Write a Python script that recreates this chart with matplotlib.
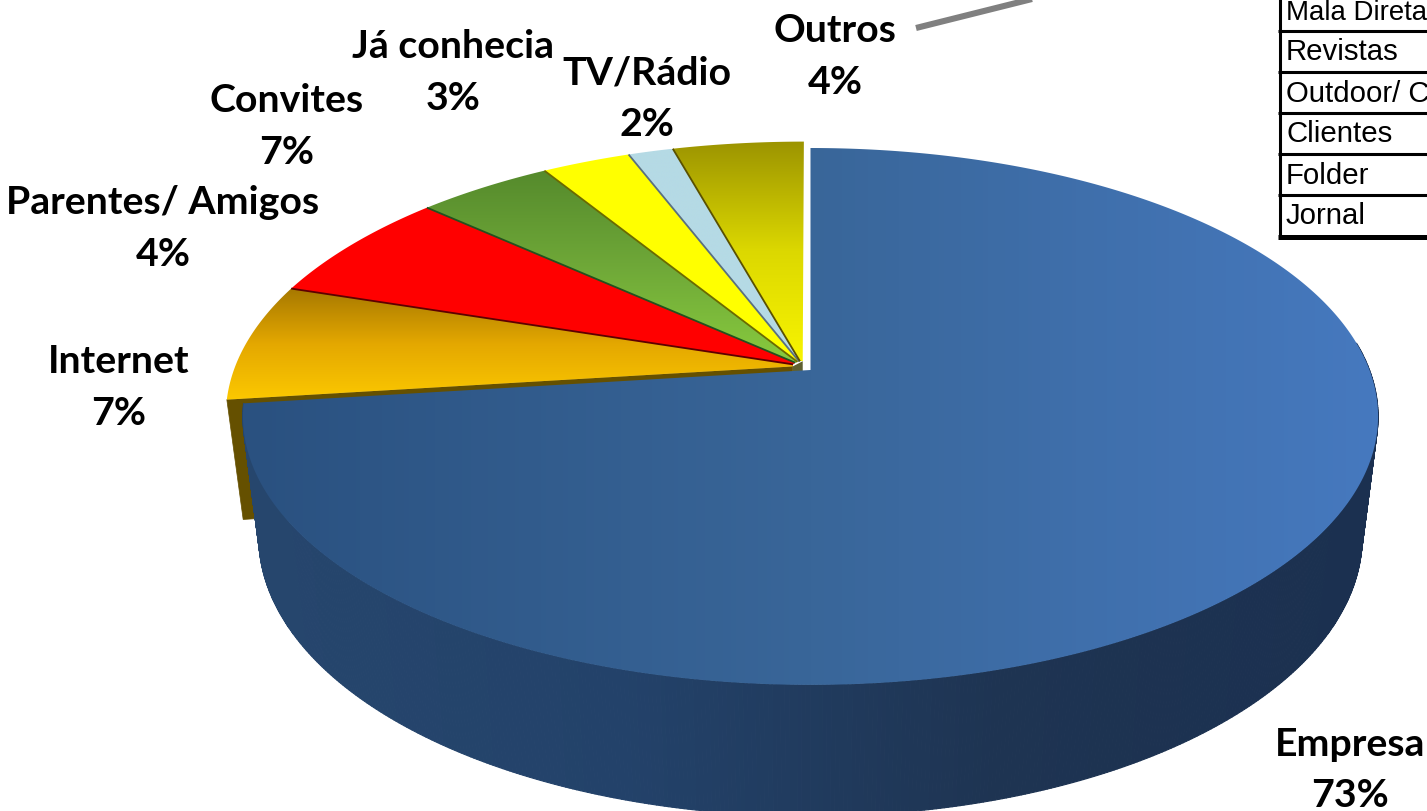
import numpy as np
import matplotlib
matplotlib.use("Agg")
import matplotlib.pyplot as plt
from matplotlib.collections import PolyCollection
from matplotlib.colors import LinearSegmentedColormap
from matplotlib.patches import Polygon

# ---- data ----
slice_names = ["Empresa", "Internet", "Convites", "Parentes/ Amigos", "Já conhecia", "TV/Rádio", "Outros"]
slice_values = [73, 7, 6.7, 4.5, 2.95, 1.5, 4.35]
label_names = ["Empresa", "Internet", "Parentes/ Amigos", "Convites", "Já conhecia", "TV/Rádio", "Outros"]
label_percent = ["73%", "7%", "4%", "7%", "3%", "2%", "4%"]
table_rows = ["Mala Direta", "Revistas", "Outdoor/ C", "Clientes", "Folder", "Jornal"]

# ---- styles / layout ----
W, H = 1427, 811
label_xy = [(1350, 770), (119, 387.5), (163, 228.5), (287, 126.5), (453, 72.5), (647, 98.5), (835, 56.5)]
table_sizes = [19.9, 21.2, 21.2, 21.2, 21.2, 21.2]
face_grad = {
    "Internet": ("#a67800", "#e4a800", "#fcc800"),
    "Convites": ("#ff0000", "#ff0000"),
    "Parentes/ Amigos": ("#558a2c", "#6fa838", "#88cb3e"),
    "Já conhecia": ("#ffff00", "#ffff00"),
    "TV/Rádio": ("#b5dae5", "#b5dae5"),
    "Outros": ("#9c9400", "#dcd800", "#f8f400"),
}
edge_colors = ["#5e0000", "#24501e", "#6b6a00", "#5a7080", "#5a5000"]

CX, AY = 810.5, 370.0     # pie centre on screen
A, B, K = 559.0, 260.4, 0.173  # perspective of the disc
BOT_CY, TOP_CY = 537.0, 416.5
BOT_SX, BOT_SY = 0.972, 1.04
EXPLODE, BIAS_U, BIAS_V = 0.018, -0.014, 0.016


def project(u, v):
    d = 1 + K * v
    return CX + A * u / d, AY - B * v / d


def to_bottom(x, y):
    return CX + (x - CX) * BOT_SX, BOT_CY + (y - TOP_CY) * BOT_SY


def shift(t):
    return EXPLODE * np.sin(t) + BIAS_U, EXPLODE * np.cos(t) + BIAS_V


fig = plt.figure(figsize=(W / 100, H / 100), dpi=100, facecolor="white")
ax = fig.add_axes([0, 0, 1, 1])
ax.set_xlim(0, W)
ax.set_ylim(H, 0)
ax.axis("off")


def gradient_fill(xy, colors, horizontal=False, z=3):
    xy = np.asarray(xy)
    x0, x1, y0, y1 = xy[:, 0].min(), xy[:, 0].max(), xy[:, 1].min(), xy[:, 1].max()
    cmap = LinearSegmentedColormap.from_list("g", colors)
    g = np.linspace(0, 1, 256)
    g = g[None, :] if horizontal else g[:, None]
    im = ax.imshow(g, cmap=cmap, vmin=0, vmax=1, extent=(x0, x1, y1, y0), aspect="auto",
                   zorder=z, interpolation="bilinear")
    clip = Polygon(xy, closed=True, transform=ax.transData, fc="none", ec="none")
    ax.add_patch(clip)
    im.set_clip_path(clip)


fr = np.cumsum([0] + slice_values) / np.sum(slice_values) * 2 * np.pi

# exploded side face of the Internet slice (under the main slice)
du, dv = shift(fr[1])
apex_pt = project(du, dv)
rx, ry = project(np.sin(fr[1]) + du, np.cos(fr[1]) + dv)
side = [apex_pt, (rx, ry), to_bottom(rx, ry), to_bottom(*apex_pt)]
ax.add_patch(Polygon(side, closed=True, fc="#655000", ec="#655000", lw=0.5, zorder=1))

# small dark piece under the point of the exploded group
last_apex = project(*shift(fr[-1]))
ax.add_patch(Polygon([apex_pt, last_apex, to_bottom(*last_apex), to_bottom(*apex_pt)], closed=True,
                     fc="#5f6030", ec="none", zorder=1))

# wall of the main slice
t = np.linspace(np.radians(84), fr[1], 500)
tx, ty = project(np.sin(t), np.cos(t))
bx, by = to_bottom(tx, ty)
quads = [[(tx[i], ty[i]), (tx[i + 1], ty[i + 1]), (bx[i + 1], by[i + 1]), (bx[i], by[i])]
         for i in range(len(t) - 1)]
xm = (tx[:-1] + tx[1:]) / 2
wall_cmap = LinearSegmentedColormap.from_list("w", ["#26466d", "#23426a", "#1e3452", "#1b3050"])
wall_col = wall_cmap((xm - xm.min()) / (xm.max() - xm.min()))
ax.add_collection(PolyCollection(quads, facecolors=wall_col, edgecolors=wall_col, linewidths=0.8, zorder=2))

# main top face
t = np.linspace(0, fr[1], 500)
tx, ty = project(np.sin(t), np.cos(t))
gradient_fill(list(zip(tx, ty)) + [project(0, 0)], ["#2a5180", "#396699", "#4679bf"], horizontal=True, z=3)

# other slices: neighbours share their edges
for i in range(1, len(slice_values)):
    t = np.linspace(fr[i], fr[i + 1], 80)
    du0, dv0 = shift(fr[i])
    du1, dv1 = shift(fr[i + 1])
    f = np.linspace(0, 1, 80)
    rx, ry = project(np.sin(t) + du0 + (du1 - du0) * f, np.cos(t) + dv0 + (dv1 - dv0) * f)
    a0 = project(du0, dv0)
    a1 = project(du1, dv1)
    gradient_fill(list(zip(rx, ry)) + [a1, a0], face_grad[slice_names[i]], z=4)
    if i < len(slice_values) - 1:
        ax.plot([a1[0], rx[-1]], [a1[1], ry[-1]], color=edge_colors[i - 1], lw=1.3, zorder=5,
                solid_capstyle="butt")

ax.set_xlim(0, W)
ax.set_ylim(H, 0)

# labels
for name, pct, (x, y) in zip(label_names, label_percent, label_xy):
    ax.text(x, y, f"{name}\n{pct}", ha="center", va="center", fontsize=28.3, fontweight="bold",
            family="Lato", color="black", linespacing=1.57, zorder=8)

# leader line running off the top
ax.plot([916, 1036], [28, -2], color="#808080", lw=4.4, solid_capstyle="butt", zorder=6)

# legend table, cut by the picture edge
row_y = [-10, 31, 72, 113, 154, 195, 237]
for y in row_y[1:]:
    ax.plot([1278, W + 5], [y, y], color="black", lw=2.2 if y < 237 else 3.6, zorder=7, solid_capstyle="butt")
ax.plot([1279.7, 1279.7], [-5, 238], color="black", lw=2.2, zorder=7, solid_capstyle="butt")
for name, y, size in zip(table_rows, row_y[:-1], table_sizes):
    ax.text(1286, y + 29.5, name, ha="left", va="baseline", fontsize=size, family="Liberation Sans",
            color="black", zorder=8, clip_on=True)

fig.savefig("out.png", dpi=100, facecolor="white")
